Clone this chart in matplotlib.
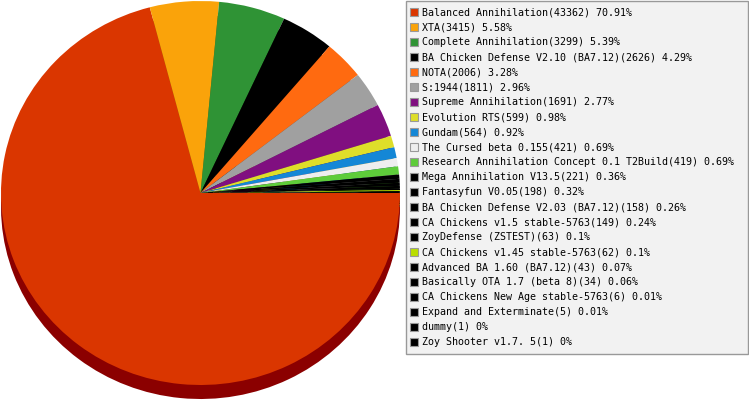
import matplotlib
matplotlib.use('Agg')
import matplotlib.pyplot as plt
from matplotlib.patches import Rectangle
from matplotlib.colors import to_rgb

# Data
names = ['Balanced Annihilation', 'XTA', 'Complete Annihilation',
         'BA Chicken Defense V2.10 (BA7.12)', 'NOTA', 'S:1944',
         'Supreme Annihilation', 'Evolution RTS', 'Gundam',
         'The Cursed beta 0.155', 'Research Annihilation Concept 0.1 T2Build',
         'Mega Annihilation V13.5', 'Fantasyfun V0.05',
         'BA Chicken Defense V2.03 (BA7.12)', 'CA Chickens v1.5 stable-5763',
         'ZoyDefense (ZSTEST)', 'CA Chickens v1.45 stable-5763',
         'Advanced BA 1.60 (BA7.12)', 'Basically OTA 1.7 (beta 8)',
         'CA Chickens New Age stable-5763', 'Expand and Exterminate',
         'dummy', 'Zoy Shooter v1.7. 5']
counts = [43362, 3415, 3299, 2626, 2006, 1811, 1691, 599, 564, 421, 419,
          221, 198, 158, 149, 63, 62, 43, 34, 6, 5, 1, 1]
colors = ['#da3600', '#faa30a', '#2f9335', '#000000', '#ff6a10', '#a0a0a0',
          '#800f80', '#dede2a', '#1487d6', '#eeeeee', '#5ecc3a',
          '#000000', '#000000', '#000000', '#000000', '#000000', '#bade00',
          '#000000', '#000000', '#000000', '#000000', '#000000', '#000000']

W, H = 749, 400
fig = plt.figure(figsize=(W / 100, H / 100), dpi=100)

# pie geometry in pixels (elliptical top face + shadow depth)
cx, cy = 200.5, 193.0
rx, ry = 199.5, 192.0
depth = 14

ax = fig.add_axes([0, 0, 1, 1])
shadow = [tuple(c * 0.55 for c in to_rgb(col)) for col in colors]
shadow[0] = '#8b0000'
ax.pie(counts, colors=shadow, startangle=0, counterclock=False,
       center=(0, -depth / ry), wedgeprops={'linewidth': 0})
ax.pie(counts, colors=colors, startangle=0, counterclock=False,
       wedgeprops={'linewidth': 0})
ax.set_aspect('auto')
ax.set_xlim(-cx / rx, (W - cx) / rx)
ax.set_ylim(-(H - cy) / ry, cy / ry)
ax.axis('off')

# Legend drawn in pixel coordinates
lg = fig.add_axes([0, 0, 1, 1])
lg.set_xlim(0, W)
lg.set_ylim(H, 0)
lg.axis('off')
lg.patch.set_alpha(0)
lg.add_patch(Rectangle((405.5, 0.5), 342.5, 353.5, facecolor='#f2f2f2',
                       edgecolor='#999999', lw=1))
total = sum(counts)
for i, (n, c, col) in enumerate(zip(names, counts, colors)):
    y = 12.3 + 15 * i
    lg.add_patch(Rectangle((410, y - 4), 8, 8, facecolor=col,
                           edgecolor='#999999', lw=0.8))
    pct = round(c / total * 100, 2)
    lg.text(422.5, y, f'{n}({c}) {pct:g}%', fontsize=7.2,
            family='DejaVu Sans Mono', va='center', ha='left', color='#000000')

plt.savefig('out.png', dpi=100)
